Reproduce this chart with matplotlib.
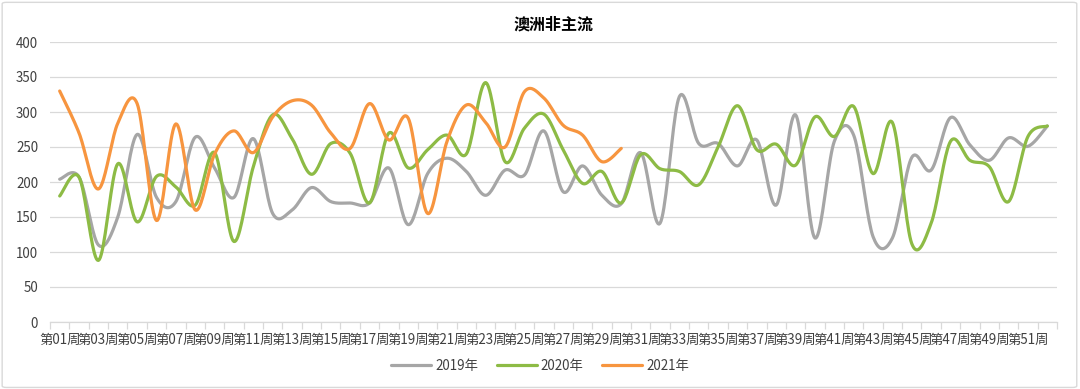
import matplotlib
matplotlib.use("Agg")
import matplotlib.pyplot as plt
from matplotlib.patches import FancyBboxPatch
import numpy as np

plt.rcParams["font.family"] = ["Noto Sans CJK SC", "DejaVu Sans"]

# data
weeks = [f"第{i:02d}周" for i in range(1, 53)]
v2019 = [204, 207, 110, 150, 268, 178, 172, 264, 220, 178, 262, 155, 160, 192, 172, 170,
         170, 220, 139, 212, 234, 215, 181, 217, 210, 273, 186, 223, 181, 169, 242, 141,
         322, 255, 255, 223, 260, 167, 296, 120, 258, 267, 122, 120, 235, 217, 292, 253,
         231, 263, 251, 280]
v2020 = [180, 207, 88, 226, 143, 208, 193, 167, 242, 115, 222, 296, 262, 211, 255, 241,
         170, 270, 220, 246, 267, 240, 342, 229, 277, 297, 246, 198, 215, 170, 239, 219,
         215, 196, 250, 309, 246, 254, 224, 293, 265, 308, 212, 285, 112, 141, 258, 231,
         222, 172, 265, 280]
v2021 = [330, 270, 190, 284, 312, 145, 283, 160, 240, 273, 242, 293, 316, 310, 270, 248,
         312, 260, 291, 155, 258, 310, 285, 250, 329, 320, 281, 267, 229, 248]

series = [("2019年", v2019, "#A6A6A6"),
          ("2020年", v2020, "#8DBB45"),
          ("2021年", v2021, "#F7953F")]


def smooth(y, n=20):
    # Catmull-Rom style bezier through the points, like Excel's smoothed line
    y = np.asarray(y, dtype=float)
    x = np.arange(len(y), dtype=float)
    pts = np.column_stack([x, y])
    ext = np.vstack([pts[0], pts, pts[-1]])
    out = []
    t = np.linspace(0, 1, n, endpoint=False)[:, None]
    for i in range(1, len(ext) - 2):
        p0, p1, p2, p3 = ext[i - 1], ext[i], ext[i + 1], ext[i + 2]
        c1 = p1 + (p2 - p0) / 6
        c2 = p2 - (p3 - p1) / 6
        seg = ((1 - t) ** 3) * p1 + 3 * ((1 - t) ** 2) * t * c1 + 3 * (1 - t) * t ** 2 * c2 + t ** 3 * p2
        out.append(seg)
    out.append(pts[-1][None, :])
    out = np.vstack(out)
    return out[:, 0], out[:, 1]


fig = plt.figure(figsize=(10.8, 3.89), dpi=100)
fig.patches.append(FancyBboxPatch((0.002, 0.004), 0.995, 0.99, boxstyle="round,pad=0,rounding_size=0.004",
                                  transform=fig.transFigure, facecolor="white",
                                  edgecolor="#D9D9D9", linewidth=1.0, zorder=-1))
ax = fig.add_axes([50 / 1080, 67 / 389, 1007 / 1080, 280 / 389])
ax.set_facecolor("none")

for name, vals, col in series:
    sx, sy = smooth(vals)
    ax.plot(sx, sy, color=col, lw=2.3, label=name, solid_capstyle="round")

ax.set_xlim(-0.5, len(weeks) - 0.5)
ax.set_ylim(0, 400)
ax.set_yticks(np.arange(0, 401, 50))
ax.yaxis.grid(True, color="#D9D9D9", lw=0.9)
ax.set_axisbelow(True)
for s in ["top", "right", "left"]:
    ax.spines[s].set_visible(False)
ax.spines["bottom"].set_color("#D9D9D9")
ax.spines["bottom"].set_linewidth(0.9)

ax.set_xticks(np.arange(0, len(weeks), 2))
ax.set_xticklabels(weeks[::2])
ax.set_xticks(np.arange(-0.5, len(weeks), 1), minor=True)
ax.tick_params(axis="x", which="major", length=0, labelsize=9.6, colors="#404040", pad=8)
ax.tick_params(axis="x", which="minor", length=5, color="#D9D9D9", width=0.9)
ax.tick_params(axis="y", length=0, labelsize=9.6, colors="#404040", pad=8.5)

ax.set_title("澳洲非主流", fontsize=11.5, fontweight="bold", color="#000000", pad=9)

fig.legend(loc="center", bbox_to_anchor=(0.5, 0.06), ncol=3, frameon=False,
           fontsize=9.6, handlelength=3.0, columnspacing=1.4, handletextpad=0.3,
           labelcolor="#404040")

fig.savefig("out.png", dpi=100)
